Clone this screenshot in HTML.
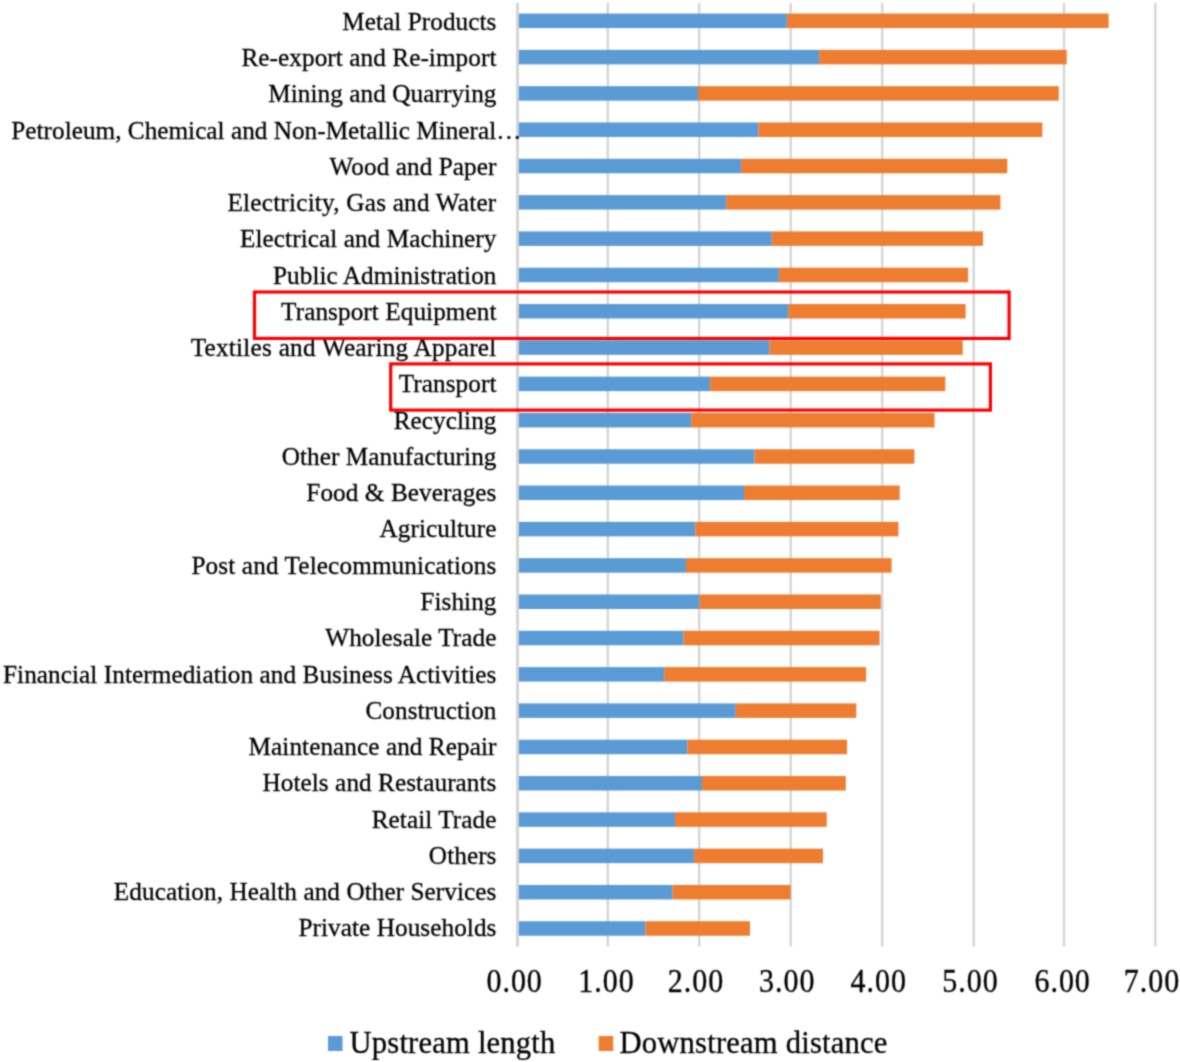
<!DOCTYPE html>
<html><head><meta charset="utf-8"><style>
html,body{margin:0;padding:0;background:#fff;}
body{width:1180px;height:1062px;overflow:hidden;}
svg{display:block;}
text{font-family:"Liberation Serif",serif;fill:#000;stroke:#000;stroke-width:0.3px;}
</style></head><body>
<svg width="1180" height="1062" viewBox="0 0 1180 1062">
<defs><filter id="bl" x="0" y="0" width="1180" height="1062" filterUnits="userSpaceOnUse" color-interpolation-filters="sRGB"><feConvolveMatrix order="5" kernelMatrix="0.00009 0.00198 0.00548 0.00198 0.00009 0.00198 0.04220 0.11707 0.04220 0.00198 0.00548 0.11707 0.32480 0.11707 0.00548 0.00198 0.04220 0.11707 0.04220 0.00198 0.00009 0.00198 0.00548 0.00198 0.00009" divisor="1" edgeMode="duplicate"/></filter></defs>
<g filter="url(#bl)">
<rect width="1180" height="1062" fill="#fff"/>

<rect x="606.65" y="3" width="2.3" height="943.5" fill="#d3d3d3"/>
<rect x="698.05" y="3" width="2.3" height="943.5" fill="#d3d3d3"/>
<rect x="789.55" y="3" width="2.3" height="943.5" fill="#d3d3d3"/>
<rect x="881.05" y="3" width="2.3" height="943.5" fill="#d3d3d3"/>
<rect x="972.55" y="3" width="2.3" height="943.5" fill="#d3d3d3"/>
<rect x="1062.85" y="3" width="2.3" height="943.5" fill="#d3d3d3"/>
<rect x="1154.15" y="3" width="2.3" height="943.5" fill="#d3d3d3"/>
<rect x="517.5" y="13.55" width="269.40" height="14.5" fill="#5b9bd5"/>
<rect x="786.9" y="13.55" width="321.70" height="14.5" fill="#ed7d31"/>
<rect x="517.5" y="49.86" width="301.60" height="14.5" fill="#5b9bd5"/>
<rect x="819.1" y="49.86" width="247.60" height="14.5" fill="#ed7d31"/>
<rect x="517.5" y="86.17" width="180.50" height="14.5" fill="#5b9bd5"/>
<rect x="698.0" y="86.17" width="360.70" height="14.5" fill="#ed7d31"/>
<rect x="517.5" y="122.47" width="241.00" height="14.5" fill="#5b9bd5"/>
<rect x="758.5" y="122.47" width="283.80" height="14.5" fill="#ed7d31"/>
<rect x="517.5" y="158.78" width="223.60" height="14.5" fill="#5b9bd5"/>
<rect x="741.1" y="158.78" width="266.20" height="14.5" fill="#ed7d31"/>
<rect x="517.5" y="195.09" width="208.70" height="14.5" fill="#5b9bd5"/>
<rect x="726.2" y="195.09" width="274.20" height="14.5" fill="#ed7d31"/>
<rect x="517.5" y="231.40" width="254.30" height="14.5" fill="#5b9bd5"/>
<rect x="771.8" y="231.40" width="211.20" height="14.5" fill="#ed7d31"/>
<rect x="517.5" y="267.71" width="261.40" height="14.5" fill="#5b9bd5"/>
<rect x="778.9" y="267.71" width="189.20" height="14.5" fill="#ed7d31"/>
<rect x="517.5" y="304.01" width="270.70" height="14.5" fill="#5b9bd5"/>
<rect x="788.2" y="304.01" width="177.40" height="14.5" fill="#ed7d31"/>
<rect x="517.5" y="340.32" width="251.80" height="14.5" fill="#5b9bd5"/>
<rect x="769.3" y="340.32" width="193.40" height="14.5" fill="#ed7d31"/>
<rect x="517.5" y="376.63" width="192.60" height="14.5" fill="#5b9bd5"/>
<rect x="710.1" y="376.63" width="235.20" height="14.5" fill="#ed7d31"/>
<rect x="517.5" y="412.94" width="173.70" height="14.5" fill="#5b9bd5"/>
<rect x="691.2" y="412.94" width="243.30" height="14.5" fill="#ed7d31"/>
<rect x="517.5" y="449.25" width="237.10" height="14.5" fill="#5b9bd5"/>
<rect x="754.6" y="449.25" width="159.80" height="14.5" fill="#ed7d31"/>
<rect x="517.5" y="485.55" width="226.50" height="14.5" fill="#5b9bd5"/>
<rect x="744" y="485.55" width="155.70" height="14.5" fill="#ed7d31"/>
<rect x="517.5" y="521.86" width="177.80" height="14.5" fill="#5b9bd5"/>
<rect x="695.3" y="521.86" width="203.10" height="14.5" fill="#ed7d31"/>
<rect x="517.5" y="558.17" width="168.50" height="14.5" fill="#5b9bd5"/>
<rect x="686" y="558.17" width="205.60" height="14.5" fill="#ed7d31"/>
<rect x="517.5" y="594.48" width="182.00" height="14.5" fill="#5b9bd5"/>
<rect x="699.5" y="594.48" width="181.30" height="14.5" fill="#ed7d31"/>
<rect x="517.5" y="630.79" width="165.80" height="14.5" fill="#5b9bd5"/>
<rect x="683.3" y="630.79" width="196.30" height="14.5" fill="#ed7d31"/>
<rect x="517.5" y="667.09" width="146.70" height="14.5" fill="#5b9bd5"/>
<rect x="664.2" y="667.09" width="201.90" height="14.5" fill="#ed7d31"/>
<rect x="517.5" y="703.40" width="218.30" height="14.5" fill="#5b9bd5"/>
<rect x="735.8" y="703.40" width="120.50" height="14.5" fill="#ed7d31"/>
<rect x="517.5" y="739.71" width="170.00" height="14.5" fill="#5b9bd5"/>
<rect x="687.5" y="739.71" width="159.50" height="14.5" fill="#ed7d31"/>
<rect x="517.5" y="776.02" width="184.50" height="14.5" fill="#5b9bd5"/>
<rect x="702" y="776.02" width="143.80" height="14.5" fill="#ed7d31"/>
<rect x="517.5" y="812.33" width="157.50" height="14.5" fill="#5b9bd5"/>
<rect x="675" y="812.33" width="151.70" height="14.5" fill="#ed7d31"/>
<rect x="517.5" y="848.63" width="176.40" height="14.5" fill="#5b9bd5"/>
<rect x="693.9" y="848.63" width="129.10" height="14.5" fill="#ed7d31"/>
<rect x="517.5" y="884.94" width="154.90" height="14.5" fill="#5b9bd5"/>
<rect x="672.4" y="884.94" width="118.30" height="14.5" fill="#ed7d31"/>
<rect x="517.5" y="921.25" width="127.90" height="14.5" fill="#5b9bd5"/>
<rect x="645.4" y="921.25" width="104.60" height="14.5" fill="#ed7d31"/>
<rect x="516.10" y="3" width="2.8" height="943.5" fill="#d3d3d3"/>
<text x="496.5" y="29.70" font-size="25.2" letter-spacing="0.08" text-anchor="end">Metal Products</text>
<text x="496.5" y="65.97" font-size="25.2" letter-spacing="0.08" text-anchor="end">Re-export and Re-import</text>
<text x="496.5" y="102.24" font-size="25.2" letter-spacing="0.08" text-anchor="end">Mining and Quarrying</text>
<text x="11.3" y="138.51" font-size="25.2" letter-spacing="0.035">Petroleum, Chemical and Non-Metallic Mineral…</text>
<text x="496.5" y="174.78" font-size="25.2" letter-spacing="0.08" text-anchor="end">Wood and Paper</text>
<text x="496.5" y="211.05" font-size="25.2" letter-spacing="0.23" text-anchor="end">Electricity, Gas and Water</text>
<text x="496.5" y="247.32" font-size="25.2" letter-spacing="0.08" text-anchor="end">Electrical and Machinery</text>
<text x="496.5" y="283.59" font-size="25.2" letter-spacing="0.08" text-anchor="end">Public Administration</text>
<text x="496.5" y="319.86" font-size="25.2" letter-spacing="0.08" text-anchor="end">Transport Equipment</text>
<text x="496.5" y="356.13" font-size="25.2" letter-spacing="0.26" text-anchor="end">Textiles and Wearing Apparel</text>
<text x="496.5" y="392.40" font-size="25.2" letter-spacing="0.08" text-anchor="end">Transport</text>
<text x="496.5" y="428.67" font-size="25.2" letter-spacing="0.08" text-anchor="end">Recycling</text>
<text x="496.5" y="464.94" font-size="25.2" letter-spacing="0.08" text-anchor="end">Other Manufacturing</text>
<text x="496.5" y="501.21" font-size="25.2" letter-spacing="0.08" text-anchor="end">Food &amp; Beverages</text>
<text x="496.5" y="537.48" font-size="25.2" letter-spacing="0.08" text-anchor="end">Agriculture</text>
<text x="496.5" y="573.75" font-size="25.2" letter-spacing="0.135" text-anchor="end">Post and Telecommunications</text>
<text x="496.5" y="610.02" font-size="25.2" letter-spacing="0.08" text-anchor="end">Fishing</text>
<text x="496.5" y="646.29" font-size="25.2" letter-spacing="0.08" text-anchor="end">Wholesale Trade</text>
<text x="496.5" y="682.56" font-size="25.2" letter-spacing="0.08" text-anchor="end">Financial Intermediation and Business Activities</text>
<text x="496.5" y="718.83" font-size="25.2" letter-spacing="0.08" text-anchor="end">Construction</text>
<text x="496.5" y="755.10" font-size="25.2" letter-spacing="0.08" text-anchor="end">Maintenance and Repair</text>
<text x="496.5" y="791.37" font-size="25.2" letter-spacing="0.08" text-anchor="end">Hotels and Restaurants</text>
<text x="496.5" y="827.64" font-size="25.2" letter-spacing="0.08" text-anchor="end">Retail Trade</text>
<text x="496.5" y="863.91" font-size="25.2" letter-spacing="0.08" text-anchor="end">Others</text>
<text x="496.5" y="900.18" font-size="25.2" letter-spacing="0.08" text-anchor="end">Education, Health and Other Services</text>
<text x="496.5" y="936.45" font-size="25.2" letter-spacing="0.08" text-anchor="end">Private Households</text>
<g transform="translate(0 991.8) scale(1 1.1) translate(0 -991.8)"><text x="486.40" y="991.8" font-size="30" letter-spacing="1.0">0.00</text>
<text x="578.20" y="991.8" font-size="30" letter-spacing="1.0">1.00</text>
<text x="667.80" y="991.8" font-size="30" letter-spacing="1.0">2.00</text>
<text x="759.00" y="991.8" font-size="30" letter-spacing="1.0">3.00</text>
<text x="850.60" y="991.8" font-size="30" letter-spacing="1.0">4.00</text>
<text x="942.30" y="991.8" font-size="30" letter-spacing="1.0">5.00</text>
<text x="1034.40" y="991.8" font-size="30" letter-spacing="1.0">6.00</text>
<text x="1123.80" y="991.8" font-size="30" letter-spacing="1.0">7.00</text></g>
<rect x="328" y="1036" width="14.5" height="15" fill="#5b9bd5"/>
<text x="349.5" y="1052.5" font-size="30.6" letter-spacing="0.2">Upstream length</text>
<rect x="598.7" y="1036" width="14.5" height="15" fill="#ed7d31"/>
<text x="619.5" y="1052.5" font-size="30.6" letter-spacing="0.2">Downstream distance</text>
<rect x="254.5" y="292" width="754.6" height="46.4" fill="none" stroke="#f80000" stroke-width="3.2"/>
<rect x="390.7" y="363.9" width="599.7" height="46.2" fill="none" stroke="#f80000" stroke-width="3.2"/>
</g></svg>
</body></html>
